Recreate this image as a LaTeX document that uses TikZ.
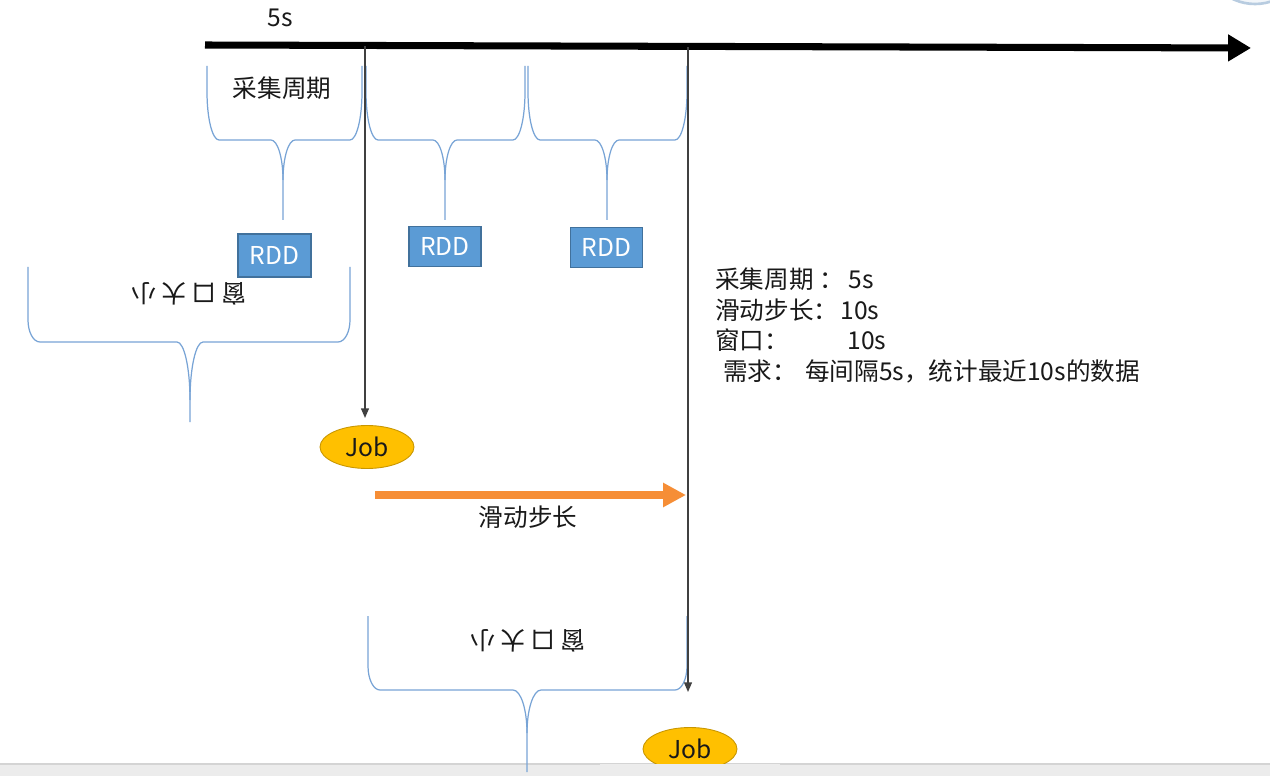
\documentclass[tikz,border=0pt]{standalone}
\usepackage{fontspec}
\setmainfont{Noto Sans CJK SC}
\usetikzlibrary{arrows.meta,shapes.geometric}
\definecolor{braceblue}{RGB}{120,164,214}
\definecolor{rddfill}{RGB}{91,155,213}
\definecolor{rddline}{RGB}{65,113,156}
\definecolor{jobfill}{RGB}{255,192,0}
\definecolor{jobline}{RGB}{200,150,0}
\definecolor{orangearr}{RGB}{246,142,54}
\definecolor{vgray}{RGB}{64,64,64}
\definecolor{textc}{RGB}{25,25,25}
\definecolor{stripfill}{RGB}{236,236,236}
\definecolor{stripline}{RGB}{212,212,212}
\newcommand\mybrace[9]{%
 \draw[bracestyle] (#1,#4) -- (#1,#5) .. controls (#1,{#5+0.552*(#6-#5)}) and ({#1+12*0.448},#6) .. ({#1+12},#6) -- ({#3-#7},#6) .. controls ({#3-#7*0.448},#6) and (#3,{#6+#8*0.448}) .. (#3,{#6+#8}) -- (#3,#9);
 \draw[bracestyle] (#2,#4) -- (#2,#5) .. controls (#2,{#5+0.552*(#6-#5)}) and ({#2-12*0.448},#6) .. ({#2-12},#6) -- ({#3+#7},#6) .. controls ({#3+#7*0.448},#6) and (#3,{#6+#8*0.448}) .. (#3,{#6+#8});
}
\tikzset{
 bracestyle/.style={draw=braceblue, line width=0.7pt},
 rdd/.style={rectangle, fill=rddfill, draw=rddline, line width=0.6pt, text=white, minimum width=1.44cm, minimum height=0.8cm, inner sep=0pt, font=\fontsize{14}{16}\selectfont},
 job/.style={ellipse, fill=jobfill, draw=jobline, line width=0.5pt, minimum width=1.88cm, minimum height=0.86cm, inner sep=0pt, text=textc, font=\fontsize{14}{16}\selectfont},
 lbl/.style={font=\fontsize{14}{16}\selectfont, text=textc, inner sep=0pt},
 vline/.style={draw=vgray, line width=0.8pt, -{Triangle[length=5.5pt,width=4.5pt]}},
}
\begin{document}
\begin{tikzpicture}[x=0.02cm,y=-0.02cm]
\useasboundingbox (0,0) rectangle (1270,776);
\fill[white] (0,0) rectangle (1270,776);
\begin{scope}
\clip (0,0) rectangle (1270,776);
\draw[draw={rgb,255:red,184;green,204;blue,224}, fill={rgb,255:red,242;green,246;blue,250}, line width=1.5pt] (1255,-48) circle[radius=52];
\end{scope}
% main time axis
\coordinate (tstart) at (205,45);
\coordinate (tend) at (1251,48);
\draw[line width=4pt, -{Triangle[length=13pt,width=14.5pt]}] (tstart) -- (tend);
\node[lbl] (five) at (280,18) {5s};
% collection braces
\mybrace{207}{362}{283}{66}{92}{140}{12}{40}{220}
\mybrace{366}{525}{445}{66}{92}{140}{12}{40}{220}
\mybrace{528}{687}{607}{66}{92}{140}{12}{40}{220}
\node[lbl] (cjzq) at (282,88) {采集周期};
% RDDs
\node[rdd, minimum width=1.46cm, minimum height=0.86cm] (rdd1) at (274.5,255.5) {RDD};
\node[rdd] (rdd2) at (445,246.5) {RDD};
\node[rdd] (rdd3) at (606.5,247.5) {RDD};
% window brace 1
\mybrace{28}{350}{190}{267}{320}{342}{13}{58}{422}
\node[lbl, rotate=180] (win1) at (189,294) {窗\hspace{3pt}口\hspace{3pt}大\hspace{3pt}小};
% bottom strip
\fill[stripfill] (0,764) rectangle (1270,776);
\draw[stripline, line width=0.6pt] (0,764) -- (1270,764);
% window brace 2
\mybrace{368}{687}{527}{616}{666}{690}{14}{43}{772}
\node[lbl, rotate=180] (win2) at (528,641) {窗\hspace{3pt}口\hspace{3pt}大\hspace{3pt}小};
% jobs
\node[job] (job1) at (367,447) {Job};
\node[job] (job2) at (690,749) {Job};
\fill[stripfill] (600,764.3) rectangle (780,776);
% vertical lines
\coordinate (v1top) at (365,46);
\coordinate (v1end) at (365,418);
\coordinate (v2top) at (688,47);
\coordinate (v2end) at (688,692);
\draw[vline] (v1top) -- (v1end);
\draw[vline] (v2top) -- (v2end);
% sliding arrow
\coordinate (o1) at (375,495);
\coordinate (o2) at (686,495);
\draw[draw=orangearr, line width=4.6pt, -{Triangle[length=13pt,width=13pt]}] (o1) -- (o2);
\node[lbl] (hdbc) at (528,517) {滑动步长};
% info text
\node[lbl, anchor=base west] (l1) at (715,289) {采集周期 ：};
\node[lbl, anchor=base west] (l1v) at (848,289) {5s};
\node[lbl, anchor=base west] (l2) at (715,320) {滑动步长：};
\node[lbl, anchor=base west] (l2v) at (840,320) {10s};
\node[lbl, anchor=base west] (l3) at (715,350) {窗口：};
\node[lbl, anchor=base west] (l3v) at (847,350) {10s};
\node[lbl, anchor=base west] (l4) at (723,381) {需求：};
\node[lbl, anchor=base west] (l4v) at (805,381) {每间隔5s，统计最近10s的数据};
\end{tikzpicture}
\end{document}
